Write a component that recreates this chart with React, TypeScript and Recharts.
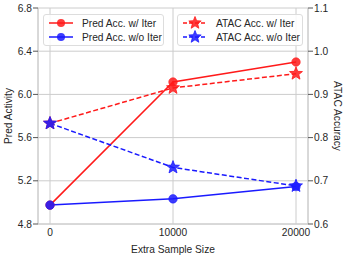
import { LineChart, Line, XAxis, YAxis, CartesianGrid } from 'recharts';

const sizes = ['0', '10000', '20000'];
const predWithIter = [4.975, 6.115, 6.3];
const predWithoutIter = [4.975, 5.033, 5.147];
const atacWithIter = [0.833, 0.915, 0.948];
const atacWithoutIter = [0.833, 0.731, 0.688];
const leftTicks = [4.8, 5.2, 5.6, 6.0, 6.4, 6.8];
const rightTicks = [0.6, 0.7, 0.8, 0.9, 1.0, 1.1];

const data = sizes.map((size, i) => ({
  size,
  predW: predWithIter[i],
  predWo: predWithoutIter[i],
  atacW: atacWithIter[i],
  atacWo: atacWithoutIter[i],
}));

const RED = '#ff1a1a';
const BLUE = '#1a1aff';
const FONT = '"Liberation Sans", Arial, sans-serif';
const TEXT = '#262626';
const SPINE = '#cccccc';

function starPoints(cx: number, cy: number, outer: number, inner: number) {
  const pts: string[] = [];
  for (let k = 0; k < 10; k++) {
    const r = k % 2 === 0 ? outer : inner;
    const a = -Math.PI / 2 + (k * Math.PI) / 5;
    pts.push(`${cx + r * Math.cos(a)},${cy + r * Math.sin(a)}`);
  }
  return pts.join(' ');
}

const starDot = (color: string) => (props: any) => {
  const { cx, cy, index } = props;
  if (cx == null || cy == null) return <g key={index} />;
  return (
    <polygon
      key={index}
      points={starPoints(cx, cy, 6.8, 2.9)}
      fill={color}
      fillOpacity={0.85}
      stroke={color}
      strokeWidth={0.8}
    />
  );
};

function LegendRow({ color, dashed, star, label }: { color: string; dashed?: boolean; star?: boolean; label: string }) {
  return (
    <div style={{ display: 'flex', alignItems: 'center', height: 14 }}>
      <svg width={26} height={14} style={{ marginRight: 8 }}>
        <line x1={1} y1={7} x2={25} y2={7} stroke={color} strokeWidth={1.5} strokeDasharray={dashed ? '4 2' : undefined} />
        {star ? (
          <polygon points={starPoints(13, 7, 6.5, 2.8)} fill={color} fillOpacity={0.85} stroke={color} strokeWidth={0.8} />
        ) : (
          <circle cx={13} cy={7} r={4} fill={color} fillOpacity={0.85} />
        )}
      </svg>
      <span>{label}</span>
    </div>
  );
}

const boxStyle: React.CSSProperties = {
  position: 'absolute',
  top: 14,
  height: 32,
  boxSizing: 'border-box',
  border: '1px solid #dddddd',
  borderRadius: 3,
  background: 'rgba(255,255,255,0.85)',
  padding: '1px 0 0 4px',
  fontFamily: FONT,
  fontSize: 10.2,
  color: TEXT,
};

export default function App() {
  return (
    <div style={{ position: 'absolute', left: 0, top: 0, width: 347, height: 258, background: '#fff' }}>
      <LineChart width={347} height={258} data={data} margin={{ top: 8, right: 0, bottom: 14, left: 0 }}>
        <CartesianGrid stroke={SPINE} strokeWidth={1} yAxisId="left" />
        <XAxis
          dataKey="size"
          scale="point"
          padding={{ left: 12, right: 12 }}
          height={20}
          tick={{ fontSize: 10.2, fill: TEXT, fontFamily: FONT }}
          tickLine={false}
          tickSize={3}
          axisLine={{ stroke: SPINE }}
          label={{ value: 'Extra Sample Size', position: 'insideBottom', offset: -9, fontSize: 10.2, fill: TEXT, fontFamily: FONT }}
        />
        <YAxis
          yAxisId="left"
          orientation="left"
          width={38}
          domain={[4.8, 6.8]}
          ticks={leftTicks}
          tickFormatter={(v: number) => v.toFixed(1)}
          tick={{ fontSize: 10.2, fill: TEXT, fontFamily: FONT }}
          tickLine={{ stroke: '#555' }}
          tickSize={5}
          tickMargin={1}
          axisLine={{ stroke: SPINE }}
          label={{ value: 'Pred Activity', angle: -90, position: 'insideLeft', offset: 8, fontSize: 10.2, fill: TEXT, fontFamily: FONT, style: { textAnchor: 'middle' } }}
        />
        <YAxis
          yAxisId="right"
          orientation="right"
          width={39}
          domain={[0.6, 1.1]}
          ticks={rightTicks}
          tickFormatter={(v: number) => v.toFixed(1)}
          tick={{ fontSize: 10.2, fill: TEXT, fontFamily: FONT }}
          tickLine={{ stroke: '#555' }}
          tickSize={5}
          tickMargin={1}
          axisLine={{ stroke: SPINE }}
          label={{ value: 'ATAC Accuracy', angle: 90, position: 'insideRight', offset: 9, fontSize: 10.2, fill: TEXT, fontFamily: FONT, style: { textAnchor: 'middle' } }}
        />
        <Line yAxisId="left" dataKey="predW" stroke={RED} strokeWidth={1.5} isAnimationActive={false}
          dot={{ r: 4.3, fill: RED, fillOpacity: 0.85, stroke: RED, strokeWidth: 0.5 }} activeDot={false} />
        <Line yAxisId="left" dataKey="predWo" stroke={BLUE} strokeWidth={1.5} isAnimationActive={false}
          dot={{ r: 4.3, fill: BLUE, fillOpacity: 0.85, stroke: BLUE, strokeWidth: 0.5 }} activeDot={false} />
        <Line yAxisId="right" dataKey="atacW" stroke={RED} strokeWidth={1.5} strokeDasharray="5 2.5" isAnimationActive={false}
          dot={starDot(RED)} activeDot={false} />
        <Line yAxisId="right" dataKey="atacWo" stroke={BLUE} strokeWidth={1.5} strokeDasharray="5 2.5" isAnimationActive={false}
          dot={starDot(BLUE)} activeDot={false} />
      </LineChart>
      <div style={{ ...boxStyle, left: 43, width: 121 }}>
        <LegendRow color={RED} label="Pred Acc. w/ Iter" />
        <LegendRow color={BLUE} label="Pred Acc. w/o Iter" />
      </div>
      <div style={{ ...boxStyle, left: 177, width: 126 }}>
        <LegendRow color={RED} dashed star label="ATAC Acc. w/ Iter" />
        <LegendRow color={BLUE} dashed star label="ATAC Acc. w/o Iter" />
      </div>
    </div>
  );
}
